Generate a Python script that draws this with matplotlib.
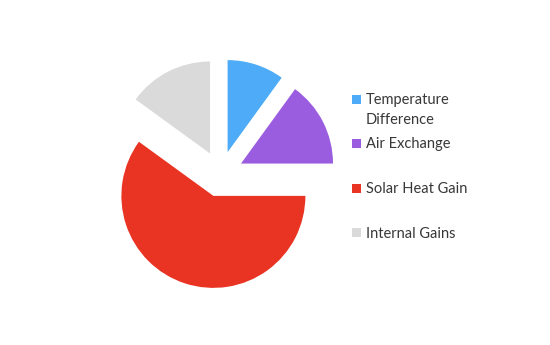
import matplotlib.pyplot as plt
from matplotlib.patches import Rectangle

labels = ['Temperature\nDifference', 'Air Exchange', 'Solar Heat Gain', 'Internal Gains']
values = [10, 15, 60, 15]
colors = ['#4dabf7', '#9b5de0', '#e93323', '#dadada']
explode = [0.25, 0.25, 0.25, 0.25]

fig = plt.figure(figsize=(5.5, 3.45), dpi=100)
ax = fig.add_axes([0.1667, 0.1223, 0.4684, 0.7467])
ax.pie(values, colors=colors, explode=explode, startangle=90, counterclock=False,
       radius=1.0, wedgeprops=dict(linewidth=0))
ax.set_xlim(-1.4, 1.4)
ax.set_ylim(-1.4, 1.4)
ax.set_aspect('equal')
ax.axis('off')

# legend drawn by hand, positions in pixels from top-left
W, H = 550., 345.
base0 = 104
for i, (lab, c) in enumerate(zip(labels, colors)):
    b = base0 + 44.5 * i
    fig.patches.append(Rectangle((352 / W, 1 - (b - 0.3) / H), 9 / W, 9 / H,
                                 transform=fig.transFigure, facecolor=c, edgecolor='none'))
    for k, line in enumerate(lab.split('\n')):
        fig.text(366 / W, 1 - (b + 20 * k) / H, line, fontsize=10.5, family='Lato',
                 color='#383838', va='baseline', ha='left')

fig.savefig('out.png', dpi=100)
